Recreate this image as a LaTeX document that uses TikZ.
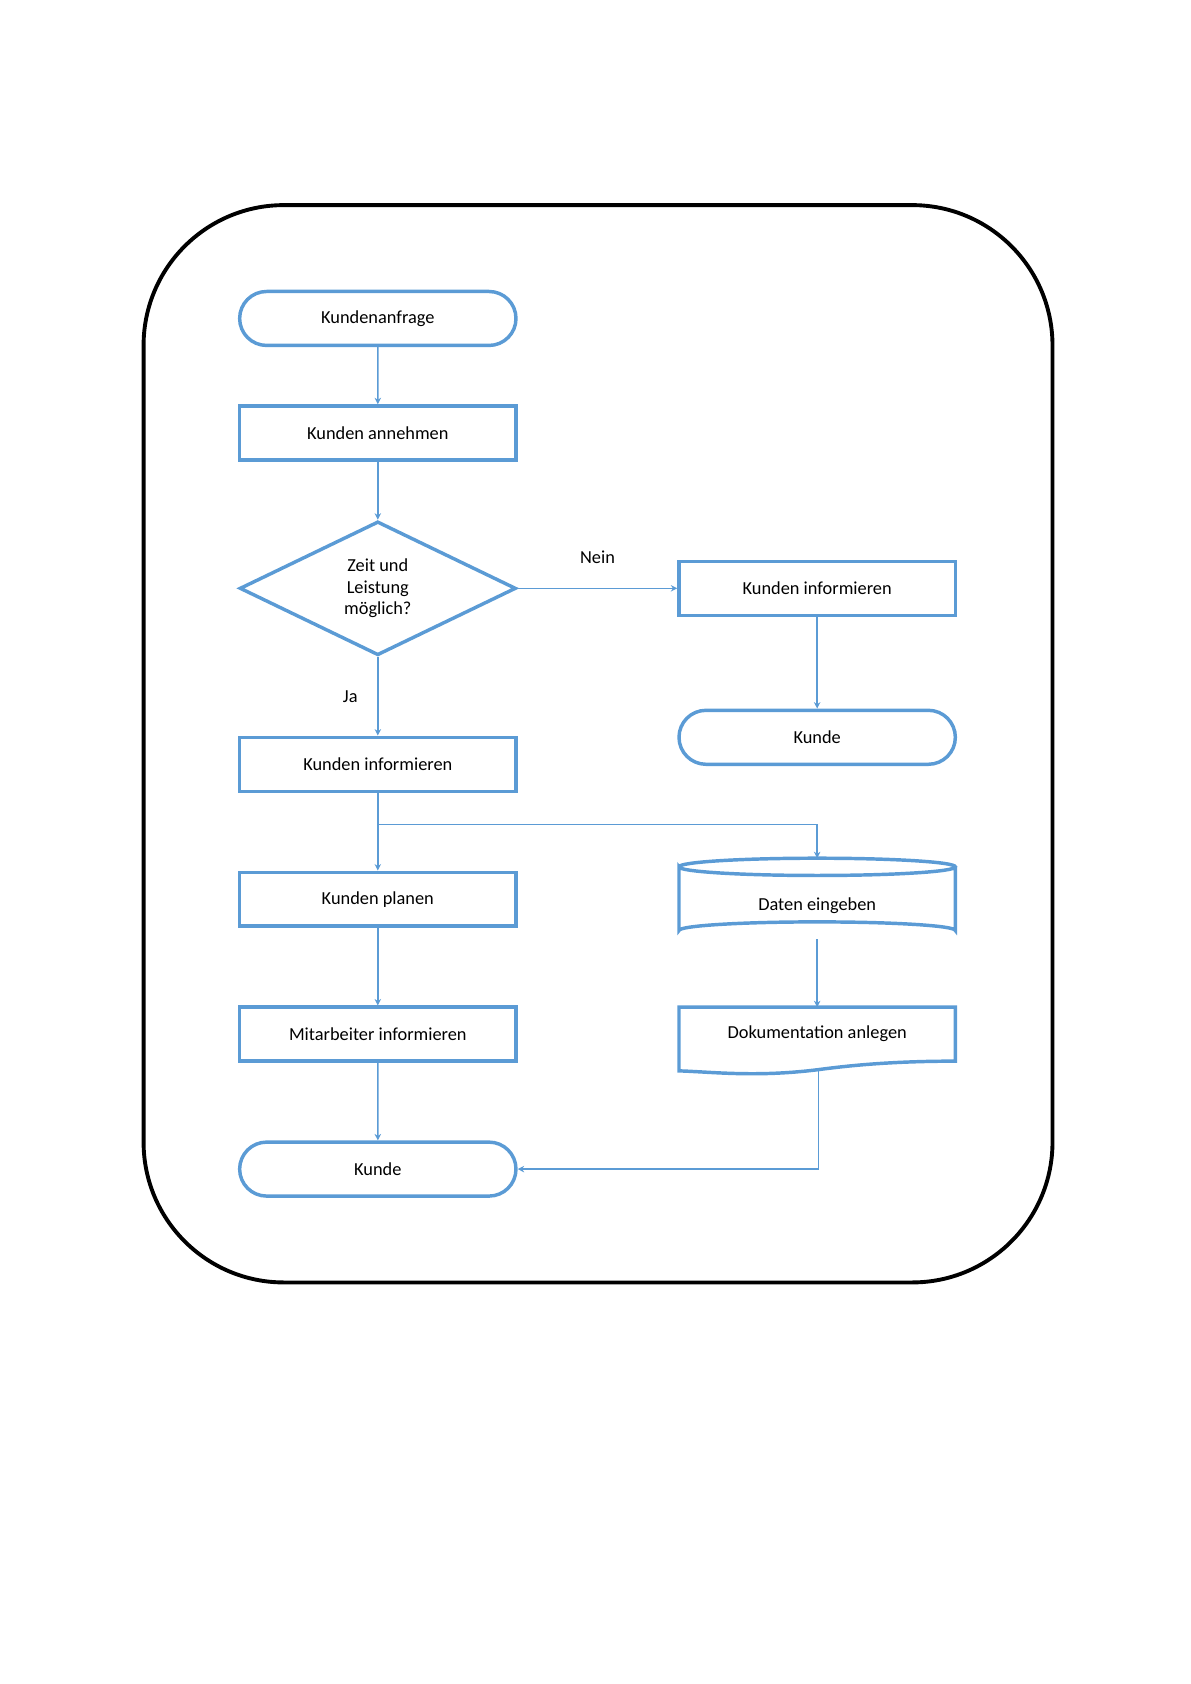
\documentclass[tikz,border=0pt]{standalone}
\usepackage{fontspec}
\setmainfont{Carlito}
\usetikzlibrary{shapes.misc,shapes.geometric,arrows.meta}
\definecolor{fb}{RGB}{91,155,213}
\begin{document}
\begin{tikzpicture}[x=0.5pt,y=-0.5pt,font=\fontsize{8.5}{10}\selectfont,
 box/.style={draw=fb,line width=1.6pt,minimum width=128pt,minimum height=25pt,inner sep=0pt},
 term/.style={box,rounded rectangle},
 conn/.style={draw=fb,line width=0.7pt,-{Stealth[length=3pt,width=3pt]}},
 lbl/.style={inner sep=1pt}]
\useasboundingbox (0,0) rectangle (1103,1560);
\draw[line width=1.8pt,rounded corners=65pt] (133,190) rectangle (975,1188);
\node[term] (a) at (350,295) {Kundenanfrage};
\node[box] (b) at (350,401) {Kunden annehmen};
\node[box,diamond,aspect=2.06,minimum width=128pt,minimum height=62pt,align=center] (d) at (350,545) {Zeit und\\Leistung\\möglich?};
\node[box] (r1) at (757,545) {Kunden informieren};
\node[term] (r2) at (757,683) {Kunde};
\node[box] (c) at (350,708) {Kunden informieren};
\node[box] (p) at (350,833) {Kunden planen};
\node[box] (m) at (350,958) {Mitarbeiter informieren};
\node[term] (k) at (350,1083) {Kunde};
% cylinder
\coordinate (cyltop) at (757,795);
\draw[fb,line width=1.6pt] (629,803) arc[start angle=180,end angle=360,x radius=128,y radius=8]
  arc[start angle=0,end angle=180,x radius=128,y radius=8] -- (629,862)
  arc[start angle=180,end angle=360,x radius=128,y radius=8] -- (885,803);
\node[lbl] (cy) at (757,839) {Daten eingeben};
\coordinate (cylbot) at (757,870);
% document
\draw[fb,line width=1.6pt] (629,933) -- (885,933) -- (885,983)
  .. controls (820,983) and (780,988) .. (757,991)
  .. controls (700,998) and (660,993) .. (629,992) -- cycle;
\node[lbl] (doc) at (757,958) {Dokumentation anlegen};
\coordinate (docbot) at (758,992);
\draw[conn] (a) -- (b);
\draw[conn] (b) -- (d);
\draw[conn] (d) -- node[lbl,pos=0.5,above=10pt] {Nein} (r1);
\draw[conn] (r1) -- (r2);
\draw[conn] (d) -- node[lbl,pos=0.5,left=8pt] {Ja} (c);
\draw[conn] (c) -- (p);
\coordinate (br) at (350,764);
\draw[conn] (br) -| (cyltop);
\draw[conn] (p) -- (m);
\draw[conn] (m) -- (k);
\draw[conn] (cylbot) -- (757,933);
\draw[conn] (docbot) |- (k.east);
\end{tikzpicture}
\end{document}
